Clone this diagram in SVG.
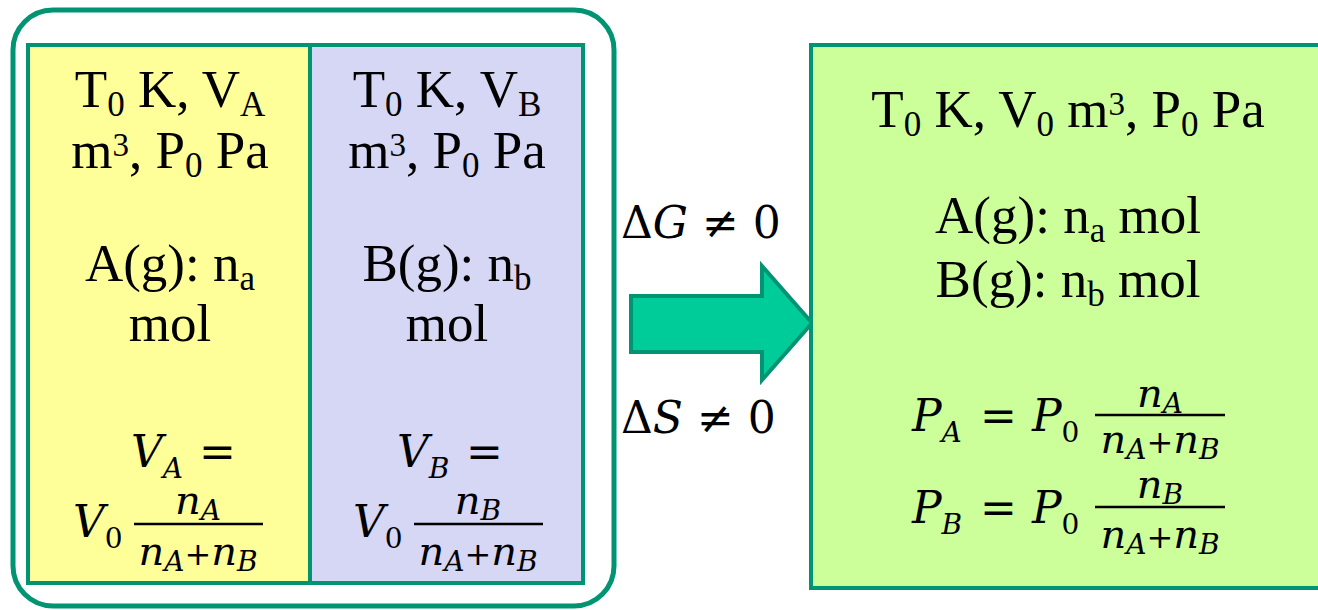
<svg xmlns="http://www.w3.org/2000/svg" width="1318" height="610" viewBox="0 0 1318 610">
  <style>
    .frame { fill: none; stroke: #009473; stroke-width: 5; }
    .box { stroke: #009473; stroke-width: 4; }
    .t { font-family: "Liberation Serif", "Times New Roman", serif; font-size: 53px; fill: #000; text-anchor: middle; }
    .sb { font-size: 35px; }
    .sp { font-size: 33px; }
    .m { font-family: "DejaVu Serif", serif; font-style: italic; font-size: 44px; fill: #000; }
    .mu { font-family: "DejaVu Serif", serif; font-style: normal; font-size: 44px; fill: #000; }
    .f { font-family: "DejaVu Serif", serif; font-style: italic; font-size: 40px; fill: #000; text-anchor: middle; }
    .s { font-size: 28px; }
    .up { font-style: normal; }
    .pl { font-style: normal; font-size: 32px; }
    .eq { font-style: normal; font-size: 44px; }
    .bar { stroke: #000; stroke-width: 2.5; }
  </style>

  <g id="container-left">
    <rect class="frame" x="13" y="10" width="601" height="596" rx="40" ry="40"/>
  </g>

  <g id="box-A">
    <rect class="box" x="28" y="45" width="282" height="538" fill="#FFFF99"/>
    <text class="t" x="170" y="107">T<tspan class="sb" dy="9">0</tspan><tspan dy="-9"> K, V</tspan><tspan class="sb" dy="9">A</tspan></text>
    <text class="t" x="170" y="168">m<tspan class="sp" dy="-12">3</tspan><tspan dy="12">, P</tspan><tspan class="sb" dy="9">0</tspan><tspan dy="-9"> Pa</tspan></text>
    <text class="t" x="170" y="281">A(g): n<tspan class="sb" dy="9">a</tspan></text>
    <text class="t" x="170" y="341">mol</text>
    <text class="m" x="131" y="467">V<tspan class="s" dy="11">A</tspan><tspan class="eq" x="199" dy="-11">=</tspan></text>
    <text class="m" x="73" y="537">V<tspan class="s up" dy="11">0</tspan></text>
    <line class="bar" x1="134" y1="524" x2="263" y2="524"/>
    <text class="f" x="198" y="514">n<tspan class="s" dy="6">A</tspan></text>
    <text class="f" x="198" y="565">n<tspan class="s" dy="6">A</tspan><tspan class="pl" dy="-6">+</tspan>n<tspan class="s" dy="6">B</tspan></text>
  </g>

  <g id="box-B">
    <rect class="box" x="310" y="45" width="273" height="538" fill="#D6D6F5"/>
    <text class="t" x="447" y="107">T<tspan class="sb" dy="9">0</tspan><tspan dy="-9"> K, V</tspan><tspan class="sb" dy="9">B</tspan></text>
    <text class="t" x="447" y="168">m<tspan class="sp" dy="-12">3</tspan><tspan dy="12">, P</tspan><tspan class="sb" dy="9">0</tspan><tspan dy="-9"> Pa</tspan></text>
    <text class="t" x="447" y="281">B(g): n<tspan class="sb" dy="9">b</tspan></text>
    <text class="t" x="447" y="341">mol</text>
    <text class="m" x="397" y="467">V<tspan class="s" dy="11">B</tspan><tspan class="eq" x="466" dy="-11">=</tspan></text>
    <text class="m" x="353" y="537">V<tspan class="s up" dy="11">0</tspan></text>
    <line class="bar" x1="414" y1="524" x2="543" y2="524"/>
    <text class="f" x="478" y="514">n<tspan class="s" dy="6">B</tspan></text>
    <text class="f" x="478" y="565">n<tspan class="s" dy="6">A</tspan><tspan class="pl" dy="-6">+</tspan>n<tspan class="s" dy="6">B</tspan></text>
  </g>

  <g id="connectors">
    <path d="M631,296 L762,296 L762,266 L812,323 L762,380 L762,352 L631,352 Z" fill="#00CC99" stroke="#009473" stroke-width="4" stroke-linejoin="miter"/>
    <text class="mu" x="621" y="238">Δ<tspan class="m">G</tspan> ≠ 0</text>
    <text class="mu" x="621" y="433">Δ<tspan class="m">S</tspan> ≠ 0</text>
  </g>

  <g id="box-mixture">
    <rect class="box" x="811" y="45" width="520" height="543" fill="#CCFF99"/>
    <text class="t" x="1068" y="127">T<tspan class="sb" dy="9">0</tspan><tspan dy="-9"> K, V</tspan><tspan class="sb" dy="9">0</tspan><tspan dy="-9"> m</tspan><tspan class="sp" dy="-12">3</tspan><tspan dy="12">, P</tspan><tspan class="sb" dy="9">0</tspan><tspan dy="-9"> Pa</tspan></text>
    <text class="t" x="1068" y="233">A(g): n<tspan class="sb" dy="9">a</tspan><tspan dy="-9"> mol</tspan></text>
    <text class="t" x="1068" y="297">B(g): n<tspan class="sb" dy="9">b</tspan><tspan dy="-9"> mol</tspan></text>

    <text class="m" x="912" y="431">P<tspan class="s" dy="11">A</tspan><tspan class="eq" x="980" dy="-11">=</tspan><tspan x="1032">P</tspan><tspan class="s up" dy="11">0</tspan></text>
    <line class="bar" x1="1095" y1="415" x2="1225" y2="415"/>
    <text class="f" x="1160" y="407">n<tspan class="s" dy="6">A</tspan></text>
    <text class="f" x="1160" y="453">n<tspan class="s" dy="6">A</tspan><tspan class="pl" dy="-6">+</tspan>n<tspan class="s" dy="6">B</tspan></text>

    <text class="m" x="912" y="523">P<tspan class="s" dy="11">B</tspan><tspan class="eq" x="980" dy="-11">=</tspan><tspan x="1032">P</tspan><tspan class="s up" dy="11">0</tspan></text>
    <line class="bar" x1="1095" y1="507" x2="1225" y2="507"/>
    <text class="f" x="1160" y="498">n<tspan class="s" dy="6">B</tspan></text>
    <text class="f" x="1160" y="548">n<tspan class="s" dy="6">A</tspan><tspan class="pl" dy="-6">+</tspan>n<tspan class="s" dy="6">B</tspan></text>
  </g>
</svg>
